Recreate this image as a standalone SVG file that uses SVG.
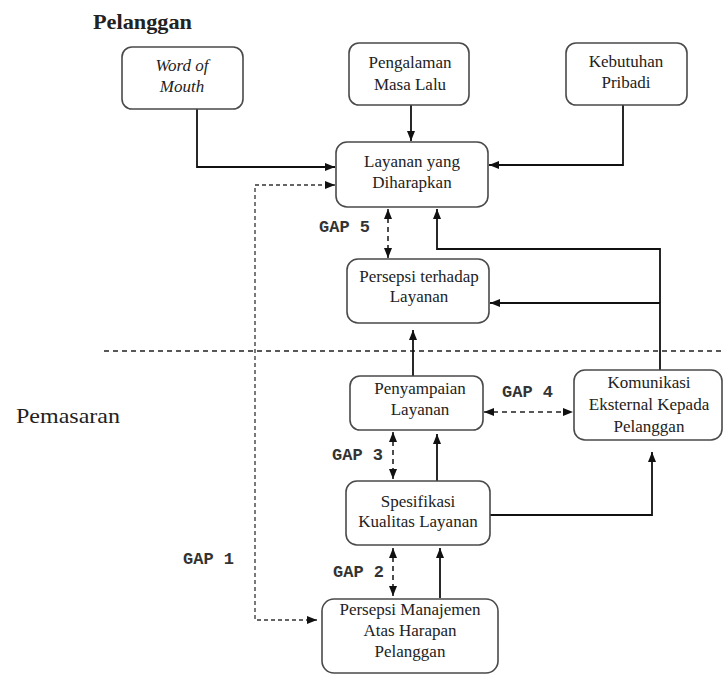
<svg xmlns="http://www.w3.org/2000/svg" width="725" height="675" viewBox="0 0 725 675">
<style>
  .box { fill: #ffffff; stroke: #4a4a4a; stroke-width: 1.6; }
  .lbl { font-family: "Liberation Serif", "Times New Roman", serif; font-size: 17px; fill: #222; text-anchor: middle; }
  .gap { font-family: "Liberation Mono", "Courier New", monospace; font-size: 17px; font-weight: bold; fill: #333; }
  .ln { fill: none; stroke: #111; stroke-width: 1.8; }
  .dl { fill: none; stroke: #222; stroke-width: 1.6; stroke-dasharray: 5 4; }
  .dv { fill: none; stroke: #333; stroke-width: 1.3; stroke-dasharray: 4 3; }
</style>
<defs>
  <marker id="ah" viewBox="0 0 10 8" refX="10" refY="4" markerWidth="10" markerHeight="8" markerUnits="userSpaceOnUse" orient="auto-start-reverse">
    <path d="M0,0 L10,4 L0,8 z" fill="#111"/>
  </marker>
</defs>
<rect width="725" height="675" fill="#ffffff"/>

<text x="93" y="29" font-family="Liberation Serif, Times New Roman, serif" font-size="21" font-weight="bold" fill="#222" textLength="99" lengthAdjust="spacingAndGlyphs">Pelanggan</text>
<text x="16" y="423" font-family="Liberation Serif, Times New Roman, serif" font-size="22" fill="#222" textLength="104" lengthAdjust="spacingAndGlyphs">Pemasaran</text>

<g id="connectors">
  <path class="dl" d="M104,351 H725"/>
  <path class="ln" d="M197,109 V167 H335" marker-end="url(#ah)"/>
  <path class="ln" d="M411,105 V141" marker-end="url(#ah)"/>
  <path class="ln" d="M623,105 V165 H489" marker-end="url(#ah)"/>
  <path class="dv" d="M317,620 H255 V185 H335" marker-start="url(#ah)" marker-end="url(#ah)"/>
  <path class="dl" d="M388,209 V258" marker-start="url(#ah)" marker-end="url(#ah)"/>
  <path class="ln" d="M660,370 V249 H437 V209" marker-end="url(#ah)"/>
  <path class="ln" d="M660,303 H490" marker-end="url(#ah)"/>
  <path class="ln" d="M413,376 V330" marker-end="url(#ah)"/>
  <path class="dl" d="M484,412 H573" marker-start="url(#ah)" marker-end="url(#ah)"/>
  <path class="dl" d="M393,432 V479" marker-start="url(#ah)" marker-end="url(#ah)"/>
  <path class="ln" d="M437,481 V434" marker-end="url(#ah)"/>
  <path class="ln" d="M490,515 H652 V452" marker-end="url(#ah)"/>
  <path class="dl" d="M393,548 V596" marker-start="url(#ah)" marker-end="url(#ah)"/>
  <path class="ln" d="M440,598 V548" marker-end="url(#ah)"/>
</g>

<text class="gap" x="319" y="232">GAP 5</text>
<text class="gap" x="502" y="397">GAP 4</text>
<text class="gap" x="332" y="460">GAP 3</text>
<text class="gap" x="333" y="577">GAP 2</text>
<text class="gap" x="183" y="564">GAP 1</text>

<g id="word-of-mouth">
  <rect class="box" x="122" y="47" width="121" height="62" rx="10"/>
  <text class="lbl" x="182" y="71" font-style="italic">Word of</text>
  <text class="lbl" x="182" y="92" font-style="italic">Mouth</text>
</g>
<g id="pengalaman">
  <rect class="box" x="349" y="43" width="120" height="62" rx="10"/>
  <text class="lbl" x="410" y="68">Pengalaman</text>
  <text class="lbl" x="410" y="90">Masa Lalu</text>
</g>
<g id="kebutuhan">
  <rect class="box" x="566" y="43" width="121" height="62" rx="10"/>
  <text class="lbl" x="626" y="67">Kebutuhan</text>
  <text class="lbl" x="626" y="88">Pribadi</text>
</g>
<g id="layanan-diharapkan">
  <rect class="box" x="336" y="142" width="152" height="65" rx="11"/>
  <text class="lbl" x="412" y="167">Layanan yang</text>
  <text class="lbl" x="412" y="188">Diharapkan</text>
</g>
<g id="persepsi-layanan">
  <rect class="box" x="347" y="259" width="142" height="64" rx="11"/>
  <text class="lbl" x="419" y="282">Persepsi terhadap</text>
  <text class="lbl" x="419" y="302">Layanan</text>
</g>
<g id="penyampaian">
  <rect class="box" x="350" y="376" width="133" height="54" rx="10"/>
  <text class="lbl" x="420" y="394">Penyampaian</text>
  <text class="lbl" x="420" y="415">Layanan</text>
</g>
<g id="komunikasi">
  <rect class="box" x="574" y="370" width="148" height="70" rx="11"/>
  <text class="lbl" x="649" y="388">Komunikasi</text>
  <text class="lbl" x="649" y="410">Eksternal Kepada</text>
  <text class="lbl" x="649" y="432">Pelanggan</text>
</g>
<g id="spesifikasi">
  <rect class="box" x="346" y="481" width="144" height="64" rx="11"/>
  <text class="lbl" x="418" y="507">Spesifikasi</text>
  <text class="lbl" x="418" y="527">Kualitas Layanan</text>
</g>
<g id="persepsi-manajemen">
  <rect class="box" x="322" y="599" width="176" height="74" rx="12"/>
  <text class="lbl" x="410" y="615">Persepsi Manajemen</text>
  <text class="lbl" x="410" y="636">Atas Harapan</text>
  <text class="lbl" x="410" y="657">Pelanggan</text>
</g>
</svg>
